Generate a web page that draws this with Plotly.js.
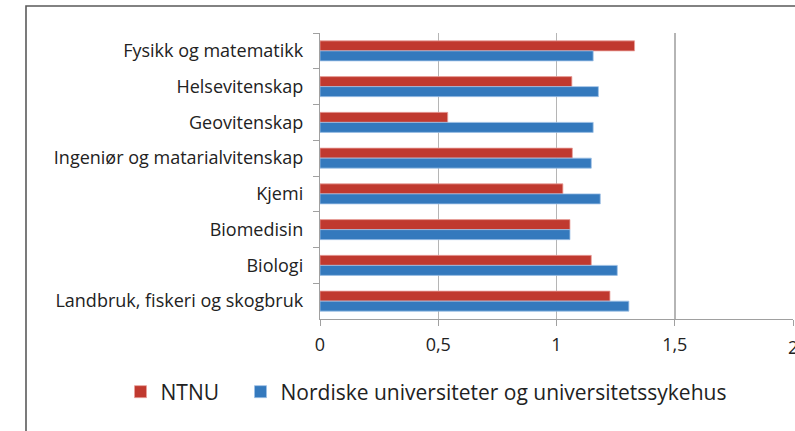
<!DOCTYPE html>
<html>
<head>
<meta charset="utf-8">
<script src="https://cdn.plot.ly/plotly-3.0.1.min.js"></script>
<style>
html,body{margin:0;padding:0;background:#fff;}
#chart{width:795px;height:431px;}
</style>
</head>
<body>
<div id="chart"></div>
<script>
const categories = [
  "Fysikk og matematikk",
  "Helsevitenskap",
  "Geovitenskap",
  "Ingeniør og matarialvitenskap",
  "Kjemi",
  "Biomedisin",
  "Biologi",
  "Landbruk, fiskeri og skogbruk"
];
const ntnu =   [1.33, 1.065, 0.54, 1.067, 1.027, 1.057, 1.147, 1.226];
const nordic = [1.155, 1.177, 1.155, 1.147, 1.185, 1.057, 1.257, 1.306];
const seriesNames = ["NTNU", "Nordiske universiteter og universitetssykehus"];
const xTickVals = [0, 0.5, 1, 1.5, 2];
const xTickText = ["0", "0,5", "1", "1,5", "2"];

const FONT = "'Open Sans', Lato, sans-serif";
const TICKSIZE = 18;
const LEGSIZE = 21;
const traces = [
  {type:"bar", orientation:"h", name:seriesNames[0], y:categories, x:ntnu, legend:"legend",
   marker:{color:"#C0392F", line:{color:"#E8A09A", width:0.8}}},
  {type:"bar", orientation:"h", name:seriesNames[1], y:categories, x:nordic, legend:"legend2",
   marker:{color:"#3479BD", line:{color:"#9DC0E6", width:0.8}}}
];
const L=320, R=2, T=33, B=112;
const legBase = {orientation:"h", xref:"container", yref:"container",
  xanchor:"left", y:(431-392)/431, yanchor:"middle",
  font:{family:FONT, size:LEGSIZE, color:"#222"}, bgcolor:"rgba(0,0,0,0)", itemwidth:30};
const layout = {
  width:795, height:431,
  margin:{l:L, r:R, t:T, b:B, pad:0},
  paper_bgcolor:"#fff", plot_bgcolor:"#fff",
  barmode:"group", bargap:0.44, bargroupgap:0,
  font:{family:FONT, color:"#222", size:TICKSIZE},
  xaxis:{range:[0,2], tickvals:xTickVals, ticktext:xTickText,
    showgrid:true, gridcolor:"#b5b5b5", gridwidth:1.5,
    zeroline:false, showline:true, linecolor:"#a0a0a0", linewidth:1.2,
    ticks:"outside", ticklen:6, tickcolor:"#a0a0a0",
    ticklabelstandoff:3, tickfont:{family:FONT, size:TICKSIZE, color:"#222"}, fixedrange:true},
  yaxis:{autorange:"reversed", type:"category", tickson:"boundaries",
    showgrid:false, zeroline:false, showline:true, linecolor:"#a0a0a0", linewidth:1.2,
    ticks:"outside", ticklen:6, tickcolor:"#a0a0a0",
    ticklabelstandoff:12, tickfont:{family:FONT, size:TICKSIZE, color:"#222"}, fixedrange:true},
  showlegend:true,
  legend: Object.assign({}, legBase, {x:(142.5-22)/795}),
  legend2: Object.assign({}, legBase, {x:(262.5-22)/795}),
  annotations:[
    {xref:"x", yref:"paper", x:xTickVals[4], y:0, yshift:-28, text:xTickText[4],
     showarrow:false, xanchor:"center", yanchor:"middle",
     font:{family:FONT, size:TICKSIZE, color:"#222"}}
  ],
  shapes:[
    {type:"path", xref:"paper", yref:"paper",
     path:`M ${(26-L)/(795-L-R)} ${(B-431)/(431-T-B)} L ${(26-L)/(795-L-R)} ${(431-B-6)/(431-T-B)} L ${(800-L)/(795-L-R)} ${(431-B-6)/(431-T-B)}`,
     line:{color:"#5a5a5a", width:1.6}}
  ]
};
Plotly.newPlot("chart", traces, layout, {displayModeBar:false, staticPlot:true});
</script>
</body>
</html>
